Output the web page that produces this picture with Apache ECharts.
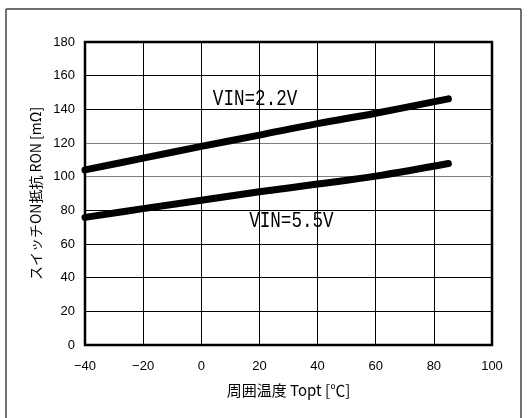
<!DOCTYPE html>
<html>
<head>
<meta charset="utf-8">
<script src="https://cdn.jsdelivr.net/npm/echarts@6/dist/echarts.min.js"></script>
<style>
  html, body { margin: 0; padding: 0; background: #fff; }
  #chart { width: 528px; height: 418px; }
</style>
</head>
<body>
<div id="chart"></div>
<script>
// Ambient temperature points (°C)
const temps = [-40, -20, 0, 20, 40, 60, 85];
// Switch ON resistance (mΩ) at each temperature
const ronVin22 = [104, 111, 118, 124.7, 131.5, 137.7, 146.2];
const ronVin55 = [75.8, 81, 86, 91, 95.6, 100.3, 107.8];

const xTicks = [-40, -20, 0, 20, 40, 60, 80, 100];
const yTicks = [0, 20, 40, 60, 80, 100, 120, 140, 160, 180];

// Curve labels with their anchor positions in data space
const curveLabels = ['VIN=2.2V', 'VIN=5.5V'];
const curveLabelAt = [[18.5, 146.3], [31, 73.3]];

const pairs = (xs, ys) => xs.map((x, i) => [x, ys[i]]);

const chart = echarts.init(document.getElementById('chart'), null, { renderer: 'canvas' });

const tickFont = { fontFamily: 'Liberation Sans, Arial, sans-serif', fontSize: 13, color: '#000' };
const cjkFamily = '"Noto Sans CJK JP", sans-serif';

const ySplitColors = yTicks.map(v => (v === 100 || v === 120) ? '#808080' : '#000');

chart.setOption({
  animation: false,
  grid: {
    left: 85, top: 42, width: 407, height: 303,
    show: true, borderColor: '#000', borderWidth: 2.5, backgroundColor: 'transparent'
  },
  xAxis: {
    type: 'value', min: xTicks[0], max: xTicks[xTicks.length - 1], interval: 20,
    axisLine: { show: false },
    axisTick: { show: false },
    axisLabel: Object.assign({ margin: 15, formatter: v => String(v).replace('-', '\u2212') }, tickFont),
    splitLine: { show: true, lineStyle: { color: '#000', width: 1 } },
    name: '周囲温度 Topt [℃]',
    nameLocation: 'middle', nameGap: 38,
    nameTextStyle: { fontFamily: cjkFamily, fontSize: 15, color: '#000' }
  },
  yAxis: {
    type: 'value', min: yTicks[0], max: yTicks[yTicks.length - 1], interval: 20,
    axisLine: { show: false },
    axisTick: { show: false },
    axisLabel: Object.assign({ margin: 10 }, tickFont),
    splitLine: { show: true, lineStyle: { color: ySplitColors, width: 1 } },
    name: 'スイッチON抵抗 RON [mΩ]',
    nameLocation: 'middle', nameGap: 41,
    nameTextStyle: { fontFamily: cjkFamily, fontSize: 14, color: '#000' }
  },
  series: [
    {
      type: 'line', data: pairs(temps, ronVin22), smooth: 0.4, symbol: 'none',
      lineStyle: { color: '#000', width: 7, cap: 'round', join: 'round' }, z: 5
    },
    {
      type: 'line', data: pairs(temps, ronVin55), smooth: 0.4, symbol: 'none',
      lineStyle: { color: '#000', width: 7, cap: 'round', join: 'round' }, z: 5
    }
  ]
});

// Frame lines and curve captions
const graphics = [
  { type: 'line', shape: { x1: 6, y1: 9, x2: 521, y2: 9 }, style: { stroke: '#404040', lineWidth: 1.5 } },
  { type: 'line', shape: { x1: 6, y1: 9, x2: 6, y2: 418 }, style: { stroke: '#404040', lineWidth: 1.5 } },
  { type: 'line', shape: { x1: 521, y1: 9, x2: 521, y2: 418 }, style: { stroke: '#404040', lineWidth: 1.5 } }
];
curveLabels.forEach((txt, i) => {
  const p = chart.convertToPixel({ gridIndex: 0 }, curveLabelAt[i]);
  graphics.push({
    type: 'text', x: p[0], y: p[1], scaleX: 0.8, z: 10,
    style: {
      text: txt, fill: '#000',
      font: '22px "Liberation Mono", "DejaVu Sans Mono", monospace',
      align: 'center', verticalAlign: 'middle'
    }
  });
});
chart.setOption({ graphic: graphics });
</script>
</body>
</html>
